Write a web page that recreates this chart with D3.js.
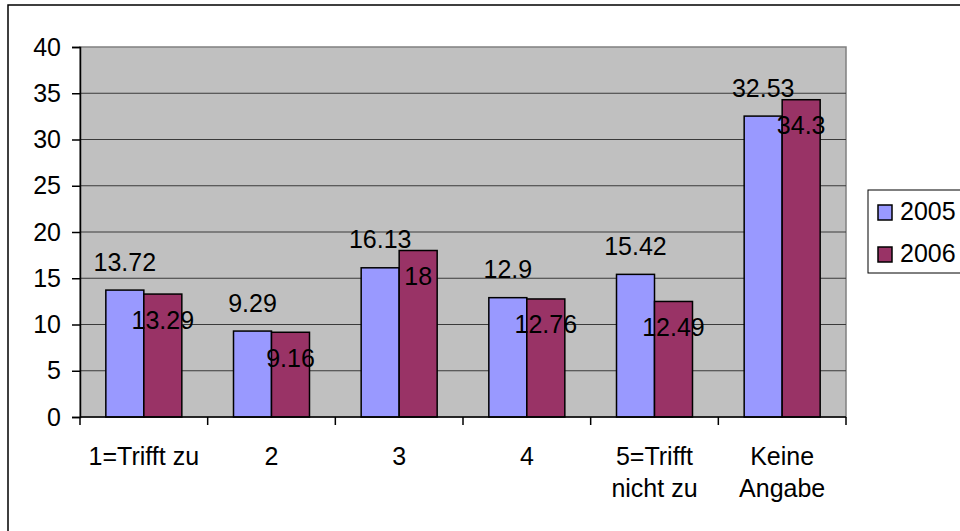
<!DOCTYPE html>
<html>
<head>
<meta charset="utf-8">
<script src="https://cdn.jsdelivr.net/npm/d3@7"></script>
<style>
  body { margin: 0; background: #fff; }
  svg text { font-family: "Liberation Sans", Arial, sans-serif; fill: #000; }
</style>
</head>
<body>
<div id="chart"></div>
<script>
// data
const categories = ["1=Trifft zu", "2", "3", "4", "5=Trifft\nnicht zu", "Keine\nAngabe"];
const series = ["2005", "2006"];
const values2005 = [13.72, 9.29, 16.13, 12.9, 15.42, 32.53];
const values2006 = [13.29, 9.16, 18, 12.76, 12.49, 34.3];
const yTicks = [0, 5, 10, 15, 20, 25, 30, 35, 40];
const colors = ["#9999ff", "#993366"];

const width = 960;
const height = 531;
const plot = { left: 80, top: 47, right: 846, bottom: 417 };

const svg = d3.select('#chart')
  .append('svg')
  .attr('width', width)
  .attr('height', height)

// outer chart frame (runs off the right and bottom)
svg.append('rect')
  .attr('x', 8).attr('y', 5)
  .attr('width', 1000).attr('height', 600)
  .attr('fill', '#fff')
  .attr('stroke', '#000')
  .attr('stroke-width', 1.5)

const x0 = d3.scaleBand()
  .domain(d3.range(categories.length))
  .range([plot.left, plot.right])
  .padding(0);

const x1 = d3.scaleBand()
  .domain(series)
  .range([0, x0.bandwidth()])
  .paddingInner(0)
  .paddingOuter(0.68);

const y = d3.scaleLinear()
  .domain([0, 40])
  .range([plot.bottom, plot.top]);

// plot area
svg.append('rect')
  .attr('x', plot.left).attr('y', plot.top)
  .attr('width', plot.right - plot.left)
  .attr('height', plot.bottom - plot.top)
  .attr('fill', '#c0c0c0')
  .attr('stroke', '#808080')
  .attr('stroke-width', 1.5)

// gridlines
svg.append('g')
  .selectAll('line')
  .data(yTicks.filter(d => d > 0 && d < 40))
  .join('line')
  .attr('x1', plot.left).attr('x2', plot.right)
  .attr('y1', d => y(d)).attr('y2', d => y(d))
  .attr('stroke', '#3a3a3a')
  .attr('stroke-width', 1.2)

// bars
const rows = categories.map((c, i) => [values2005[i], values2006[i]]);

const groups = svg.append('g')
  .selectAll('g')
  .data(rows)
  .join('g')
  .attr('transform', (d, i) => `translate(${x0(i)},0)`)

groups.selectAll('rect')
  .data(d => d.map((v, j) => ({ v, j })))
  .join('rect')
  .attr('x', d => x1(series[d.j]))
  .attr('y', d => y(d.v))
  .attr('width', x1.bandwidth())
  .attr('height', d => y(0) - y(d.v))
  .attr('fill', d => colors[d.j])
  .attr('stroke', '#000')
  .attr('stroke-width', 1.5)

// data labels: 2005 above the bar, 2006 inside below the top
groups.selectAll('text')
  .data(d => d.map((v, j) => ({ v, j })))
  .join('text')
  .attr('x', d => x1(series[d.j]) + x1.bandwidth() / 2)
  .attr('y', d => d.j === 0 ? y(d.v) - 19.5 : y(d.v) + 34.5)
  .attr('text-anchor', 'middle')
  .attr('font-size', '25px')
  .text(d => d.v)

// y axis
const yAxis = svg.append('g')
  .attr('transform', `translate(${plot.left},0)`)
  .call(d3.axisLeft(y).tickValues(yTicks).tickSize(8).tickPadding(11))
yAxis.selectAll('text').attr('font-size', '25px').attr('font-family', '"Liberation Sans", Arial, sans-serif')
yAxis.selectAll('line, path').attr('stroke', '#000').attr('stroke-width', 1.5)

// x axis with ticks between categories
const xAxis = svg.append('g')
  .attr('transform', `translate(0,${plot.bottom})`)
xAxis.append('line')
  .attr('x1', plot.left).attr('x2', plot.right)
  .attr('stroke', '#000').attr('stroke-width', 1.5)
xAxis.selectAll('line.tick')
  .data(d3.range(categories.length + 1))
  .join('line')
  .attr('class', 'tick')
  .attr('x1', i => plot.left + i * x0.step())
  .attr('x2', i => plot.left + i * x0.step())
  .attr('y1', 0).attr('y2', 8)
  .attr('stroke', '#000').attr('stroke-width', 1.5)

xAxis.selectAll('text')
  .data(categories)
  .join('text')
  .attr('text-anchor', 'middle')
  .attr('font-size', '25px')
  .each(function(d, i) {
    d3.select(this).selectAll('tspan')
      .data(d.split('\n'))
      .join('tspan')
      .attr('x', x0(i) + x0.bandwidth() / 2)
      .attr('y', (t, k) => 48 + k * 32)
      .text(t => t)
  })

// legend
const legend = svg.append('g')
legend.append('rect')
  .attr('x', 868).attr('y', 190)
  .attr('width', 120).attr('height', 83)
  .attr('fill', '#fff')
  .attr('stroke', '#000')
  .attr('stroke-width', 1)

const items = legend.selectAll('g')
  .data(series)
  .join('g')
  .attr('transform', (d, i) => `translate(878,${205 + i * 42})`)
items.append('rect')
  .attr('width', 14).attr('height', 15)
  .attr('fill', (d, i) => colors[i])
  .attr('stroke', '#000')
  .attr('stroke-width', 1.5)
items.append('text')
  .attr('x', 22).attr('y', 15)
  .attr('font-size', '25px')
  .text(d => d)
</script>
</body>
</html>
